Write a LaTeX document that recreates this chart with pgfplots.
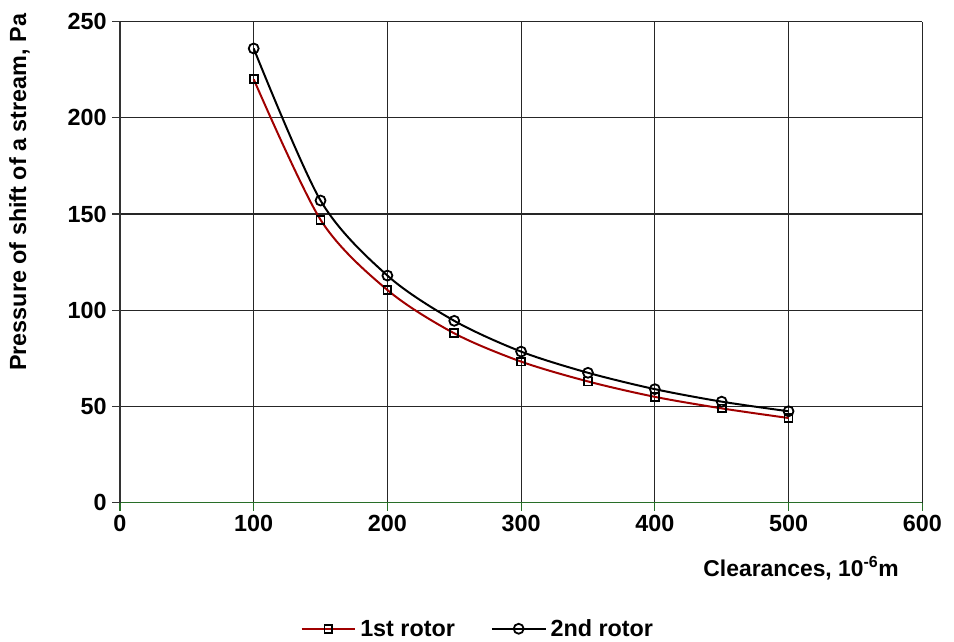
\documentclass[border=0pt]{standalone}
\usepackage{pgfplots}
\pgfplotsset{compat=1.18}
\usepackage{fontspec}
\setmainfont{Liberation Sans}
\definecolor{darkred}{RGB}{160,0,0}
\definecolor{axgreen}{RGB}{40,110,40}
\begin{document}
\begin{tikzpicture}
\begin{axis}[
  scale only axis,
  width=807pt, height=484pt,
  xmin=0, xmax=600, ymin=0, ymax=250,
  xtick={0,100,...,600}, ytick={0,50,...,250},
  grid=major,
  major grid style={black!85, line width=1.1pt},
  axis x line=bottom, axis y line=left,
  x axis line style={-, axgreen, line width=1.1pt},
  y axis line style={-, black!80, line width=1.1pt},
  xtick style={axgreen, line width=1.1pt},
  ytick style={black!80, line width=1.1pt},
  tick align=outside,
  major tick length=8pt,
  /pgf/number format/assume math mode=true,
  tick label style={font=\fontsize{23.5}{27}\selectfont\bfseries, black},
  xticklabel style={yshift=-1pt},
  yticklabel style={xshift=-2pt},
  xlabel={Clearances, 10\textsuperscript{-6}m},
  xlabel style={at={(rel axis cs:0.975,0)}, anchor=north east, yshift=-50pt, font=\fontsize{23}{27}\selectfont\bfseries},
  ylabel={Pressure of shift of a stream, Pa},
  ylabel style={at={(rel axis cs:-0.108,0.645)}, anchor=south, font=\fontsize{23.5}{27}\selectfont\bfseries},
  legend style={at={(rel axis cs:0.446,-0.262)}, anchor=center, draw=none,
    font=\fontsize{23.5}{27}\selectfont\bfseries, column sep=2pt,
    /tikz/every even column/.append style={column sep=34pt}},
  legend columns=2,
  legend image code/.code={
    \draw[#1, mark=none] (0cm,0cm) -- (1.9cm,0cm);
    \draw[#1, only marks] plot coordinates {(0.95cm,0cm)};
  },
]
\addplot[darkred, line width=2pt, smooth, mark=square, mark size=4pt,
  mark options={black, line width=1.8pt, solid}]
  coordinates {(100,220) (150,147) (200,110.5) (250,88) (300,73.3) (350,63) (400,55) (450,49) (500,44)};
\addlegendentry{1st rotor}
\addplot[black, line width=2pt, smooth, mark=o, mark size=5pt,
  mark options={black, line width=1.8pt, solid}]
  coordinates {(100,236) (150,157) (200,118) (250,94.5) (300,78.5) (350,67.5) (400,59) (450,52.5) (500,47.5)};
\addlegendentry{2nd rotor}
\end{axis}
\path (current bounding box.north east) ++(9pt,10pt);
\path (current bounding box.south west) ++(-6pt,0pt);
\end{tikzpicture}
\end{document}
